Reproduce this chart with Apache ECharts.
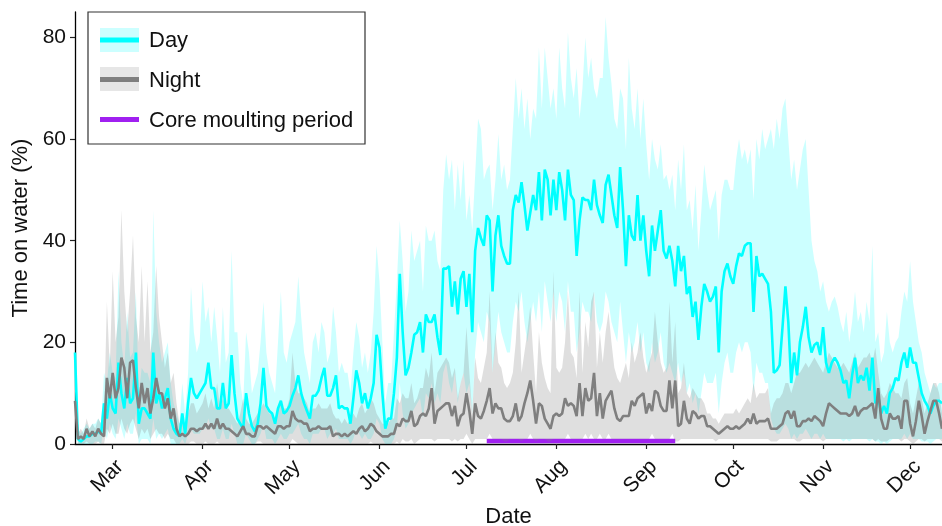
<!DOCTYPE html>
<html><head><meta charset="utf-8">
<script src="https://cdn.jsdelivr.net/npm/echarts@6/dist/echarts.min.js"></script>
<style>html,body{margin:0;padding:0;background:#fff}#c{width:942px;height:526px}</style>
</head><body><div id="c"></div>
<script>
// Daily series from 2019-02-16 to 2019-12-12 (300 days)
const startYear = 2019, startMonth = 1, startDay = 16, nDays = 300;
const monthLabels = ['Jan','Feb','Mar','Apr','May','Jun','Jul','Aug','Sep','Oct','Nov','Dec'];
const moultPeriod = ['2019-07-08', '2019-09-11'];

const dayMean = [18,1,0.5,1,1.5,1.5,2,2,2.5,2,
 8,5,10,7,6,16,10,7,13,8,
 9,18,4,7,7,6,5,18,8,10,
 7,9,11,5,3,2,1.5,6,2,8,
 13,10,9,10,11,12,16,11,11,7,
 7,12,7,8,17.5,10,5,4,3,10,
 6,3.5,2.5,4,8,15,7.5,6.5,6,4,
 7,8.5,6,6.5,7.5,9.5,11,13.5,10,8,
 6.5,5,9.5,9.5,10.5,13,15,9.5,9.5,11,
 13.5,7,7.5,7,7,4,9,14.5,12,8,
 10,7,9,12,21.5,19,10,3,5,5,
 10,17,33.5,22,13.5,15,18,21.5,22,24,
 18,25.5,24,24,25.5,21,17.5,34.5,34.5,35,
 27,32,25.5,32.5,34,27,33.5,22,38,42.5,
 40.5,39,45,44,30,41,45,39,37,35.5,
 35.5,46,49,47.5,51.5,47,42,45.5,49,46,
 53.5,44,54,52,45,52,46,53.5,50,44,
 54,49,48,37,44,48.5,48,48,46,52,
 47,45,43.5,51,53,49,45,42.5,54.5,46,
 35,45,41,40,49,40,45,38,33,43,
 38,42,46,38,36.5,39,36,31,39,34,
 37,29.5,31,25,28,20.5,27,31.5,30,28,
 29,31,18,30,34,35.5,33,31.5,35,37.5,
 37,39,39.5,39.5,26,37,33,33.5,32.5,31.5,
 26,14,14.5,15.5,23,31,24,12,18,13.5,
 20,23,27,21,18,19.5,20,17.5,23,16,
 14,16,17,16,14.5,12,12.5,9,13.5,17,
 12,13.5,12.5,15,10.5,17,8,9.5,6,7.5,
 6,10,11,13,12.5,16,18,15,19,16,
 16,13,10,8.5,7.5,6,7.5,8.5,8.5,8];

const dayUpper = [19,3,2,3,4,3,4,4,5,4,
 14,12,18,14,13,34,20,15,26,17,
 18,30,10,15,14,14,12,46,26,20,
 16,18,20,12,8,6,4,12,6,14,
 31,22,18,20,32,24,27,20,27,21,
 14,27,16,18,38,22,22,12,8,22,
 18,10,12,14,20,28,18,14,12,10,
 20,30,18,16,20,22,24,33,25,18,
 15,12,20,22,18,24,22,16,18,27,
 22,14,16,14,14,10,18,24,21,15,
 18,14,18,26,39,32,20,8,12,12,
 22,32,44,36,26,30,42,36,38,40,
 30,43,40,40,42,36,34,50,57,52,
 56,46,55,48,56,44,49,42,53,64,
 62,52,54,55,46,52,61,52,55,50,
 52,62,72,64,70,62,68,60,66,64,
 78,66,78,72,66,70,64,78,70,66,
 81,72,68,74,64,70,80,72,76,70,
 68,72,72,84,76,71,64,62,70,68,
 58,76,66,62,70,60,68,59,52,60,
 56,54,59,52,53,50,53,46,56,50,
 59,46,48,42,51,38,46,55,50,46,
 48,50,40,49,52,52,50,50,56,60,
 56,58,55,58,48,60,56,62,58,60,
 62,58,64,60,66,68,60,52,56,50,
 54,58,60,50,40,36,34,30,32,28,
 26,28,29,27,24,22,26,20,24,30,
 24,26,22,28,24,39,20,22,16,18,
 26,20,18,20,21,26,30,28,36,28,
 24,20,18,14,12,10,12,11,12,12];

const dayLower = [17,0,0,0,0,0,0,0.5,0.5,0,
 3,1,4,2,1,5,3,1,4,2,
 2,6,0,1,1,1,0,5,1,2,
 1,2,3,0,0,0,0,1,0,2,
 3,2,2,2,3,3,5,3,3,1,
 1,3,1,1,4,2,0,0,0,2,
 1,0,0,1,2,4,1,1,1,0,
 1,2,1,1,2,2,3,4,2,1,
 1,0,2,2,2,3,3,1,2,2,
 3,1,1,1,1,0,1,3,2,1,
 2,1,1,2,5,4,1,0,0,0,
 1,3,12,6,3,4,6,7,8,9,
 5,10,9,12,8,10,8,14,16,12,
 10,14,8,12,14,10,12,6,18,24,
 22,20,26,24,14,20,26,22,20,18,
 18,24,28,26,30,24,20,24,28,24,
 30,22,32,28,24,30,24,30,28,22,
 32,26,26,18,22,28,26,26,24,30,
 24,22,24,30,28,24,22,20,28,22,
 16,22,18,20,24,18,22,16,14,20,
 16,18,22,16,14,16,14,12,16,12,
 14,10,12,8,10,6,10,14,12,12,
 12,14,6,12,16,18,14,14,18,20,
 18,20,20,18,10,16,14,14,12,12,
 5,3,2,2,3,4,3,1,2,1,
 2,2,3,2,1,2,2,1,2,1,
 1,1,1,1,1,0.5,1,0.5,1,1,
 1,1,1,1,0.5,1,0.5,0.5,0,0.5,
 0,0.5,1,1,1,1,2,1,2,1,
 1,1,0.5,0.5,0.5,0,0.5,1,1,1];

const nightMean = [8.5,1,1.5,1,3,1.5,2.5,1.5,3,2,
 1.5,13,9,14,9,11,17,15,9,16,
 16.5,11,7,12,8,11,6,9,13,10,
 10,7,9,5,7,3,1.5,2,1.5,2,
 3,3,2.5,3,3,4,3,4,3,5,
 3,4,3,3,2.5,2,1.5,2.5,3.5,2,
 2,1.5,1.5,3.5,3.5,3,3.5,3,2.5,2,
 3.5,3.5,3,3.5,3.5,6.5,5,4.5,4.5,4,
 4,2.5,3,3,3.5,3,3,3,3.5,1.5,
 2,2,1.5,2,1.5,2,2.5,2,3,3.5,
 2.5,3,4,3.5,2.5,2,1.5,1.5,1.5,2,
 2,4,3.5,5,4.5,4.5,6.5,3.5,4,5.5,
 6,5.5,7,11,4,6.5,7,7.5,8,8,
 5.5,7.5,3.5,5.5,6,10,6.5,2,8,5.5,
 5,6.5,8.5,11,6,8,7,7,5,4.5,
 4.5,5.5,8,4.5,5.5,8,10,12.5,8.5,4,
 8,7.5,5,4,3,5.5,6,5.5,6,9,
 7.5,8,7.5,5.5,12,5.5,11,8.5,9,14,
 5.5,10,5,8.5,9.5,10.5,7,5,4.5,5.5,
 5.5,5.5,8.5,7.5,9,9.5,10,6,8,6.5,
 10.5,10,7.5,6.5,6.5,12.5,7,12.5,3.5,4,
 8.5,5,4,6.5,6,5,5.5,5.5,3.5,3.5,
 3,2.5,2,2.5,3,3.5,3,3,3.5,3,
 3.5,4,5,4,6,4,4.5,4.5,4.5,5,
 3,3,3,3.5,4,6,6.5,5,6.5,3.5,
 3.5,4.5,4.5,5,4.5,5.5,5,4.5,3.5,6,
 8,7.5,7,6.5,6,6,6,5.5,6,7.5,
 5.5,6.5,7,7,7.5,8,5,11,5,3,
 3,6,5,5,5.5,3,8.5,8.5,4,1.5,
 4.5,8.5,5.5,2,4.5,6.5,8.5,8.5,6,3];

const nightUpper = [10,2,3,2,5,3,4,3,5,4,
 5,28,15,34,20,25,46,30,22,30,
 41,25,20,35,20,32,18,22,35,25,
 20,15,18,12,14,8,4,5,4,6,
 8,8,6,7,8,10,7,9,7,12,
 7,9,7,7,6,5,4,6,9,5,
 4,4,5,6,7,8,7,6,6,5,
 7,8,7,7,9,18,12,10,10,9,
 8,6,7,7,8,7,7,7,8,6,
 5,5,4,5,4,5,6,5,7,8,
 6,7,9,8,6,5,4,4,4,5,
 5,9,8,10,9,9,12,8,9,11,
 11,15,13,18,10,14,15,16,17,16,
 13,15,9,12,14,23,14,6,17,13,
 12,15,18,30,14,22,16,15,12,11,
 12,14,20,30,14,18,22,27,18,10,
 22,16,13,11,10,34,15,14,15,20,
 30,18,17,13,30,14,24,19,28,30,
 15,22,16,22,26,20,15,13,12,14,
 16,13,20,16,18,22,17,14,16,18,
 26,20,16,14,15,28,16,24,10,11,
 16,10,9,11,10,9,9,8,6,6,
 5,5,4,5,6,6,6,6,7,6,
 7,8,9,8,12,9,10,10,10,11,
 6,8,9,9,10,12,12,10,12,14,
 14,15,16,15,16,17,16,15,14,16,
 18,17,16,15,15,16,15,14,16,18,
 15,16,17,17,18,16,19,14,10,9,
 10,12,11,10,10,9,12,13,8,6,
 9,12,9,6,8,10,12,12,10,6];

const nightLower = [7,0,0,0,0.5,0,0,0,0.5,0,
 0,3,2,4,2,2,5,3,2,4,
 5,3,1,3,2,3,1,2,3,2,
 2,1,2,1,1,0,0,0,0,0,
 0.5,0.5,0,0,0,0.5,0,0,0,0.5,
 0,0,0,0,0,0,0,0,0,0,
 0,0,0,0.5,0.5,0,0,0,0,0,
 0,0,0,0,0,1,0.5,0,0,0,
 0,0,0,0,0,0,0,0,0,0,
 0,0,0,0,0,0,0,0,0,0,
 0,0,0.5,0,0,0,0,0,0,0,
 0,0.5,0,1,0.5,0.5,1,0,0.5,1,
 1,1,1,1,0.5,1,1,1,1,1,
 0.5,1,0.5,1,1,2,1,0,1,1,
 1,1,1,2,1,1,1,1,0.5,0.5,
 1,1,1,1,0.5,1,1,2,1,0.5,
 1,1,1,0.5,0.5,1,1,1,1,1,
 2,1,1,1,1,1,2,1,2,1,
 1,2,1,1,2,1,1,1,1,1,
 1,1,1,1,1,1,1,1,1,2,
 1,1,1,1,1,1,2,0.5,0.5,1,
 1,1,1,1,1,1,1,1,1,1,
 1,0.5,1,1,1,1,1,1,1,1,
 1,1,1,1,1,1,1,1,1,1,
 0.5,0.5,0.5,1,1,1,1,1,1,0.5,
 0.5,1,1,1,1,1,1,1,0.5,1,
 1,1,1,1,1,1,1,1,1,1,
 1,1,1,1,1,1,0.5,1,0.5,0.5,
 0.5,1,1,1,1,0.5,1,1,0.5,0,
 0.5,1,1,0.5,1,1,1,1,1,0.5];

// ---- build ----
const dates = [];
for (let i = 0; i < nDays; i++) {
  const d = new Date(Date.UTC(startYear, startMonth, startDay + i));
  dates.push(d.toISOString().slice(0, 10));
}
function bandBase(lo, mean) { return lo.map((v, i) => Math.min(v, mean[i])); }
function bandWidth(lo, hi, mean) { return hi.map((v, i) => Math.max(v, mean[i]) - Math.min(lo[i], mean[i])); }
const isMonthStart = (idx, v) => v.slice(8) === '01';
const FONT = 'Liberation Sans, Arial, sans-serif';
const TXT = '#111';

const chart = echarts.init(document.getElementById('c'), null, {renderer: 'canvas'});
const noEmph = {disabled: true};
chart.setOption({
  animation: false,
  backgroundColor: '#fff',
  grid: {left: 75, right: 0, top: 12, bottom: 82, containLabel: false, outerBoundsMode: 'none'},
  xAxis: {
    type: 'category', data: dates, boundaryGap: false,
    axisLine: {lineStyle: {color: '#000', width: 1.3}},
    axisTick: {interval: isMonthStart, length: 5, lineStyle: {color: '#222', width: 1.2}},
    axisLabel: {interval: isMonthStart, rotate: 45, margin: 12, verticalAlign: 'top',
      formatter: v => monthLabels[+v.slice(5, 7) - 1], fontSize: 21, color: TXT, fontFamily: FONT},
    splitLine: {show: false},
    name: 'Date', nameLocation: 'middle', nameGap: 60,
    nameTextStyle: {fontSize: 22, color: TXT, fontFamily: FONT}
  },
  yAxis: {
    type: 'value', min: 0, max: 85, interval: 20,
    axisLine: {show: true, lineStyle: {color: '#000', width: 1.3}},
    axisTick: {show: true, length: 5, lineStyle: {color: '#222', width: 1.2}, customValues: [0, 20, 40, 60, 80]},
    axisLabel: {margin: 9, fontSize: 21, color: TXT, fontFamily: FONT, customValues: [0, 20, 40, 60, 80]},
    splitLine: {show: false},
    name: 'Time on water (%)', nameLocation: 'middle', nameGap: 41,
    nameTextStyle: {fontSize: 22, color: TXT, fontFamily: FONT}
  },
  series: [
    {type: 'line', stack: 'dayband', data: bandBase(dayLower, dayMean), symbol: 'none',
      lineStyle: {opacity: 0}, emphasis: noEmph, silent: true},
    {type: 'line', stack: 'dayband', data: bandWidth(dayLower, dayUpper, dayMean), symbol: 'none',
      lineStyle: {opacity: 0}, areaStyle: {color: 'rgba(0,255,255,0.2)', opacity: 1}, emphasis: noEmph, silent: true},
    {type: 'line', name: 'Day', data: dayMean, symbol: 'none',
      lineStyle: {color: '#00FFFF', width: 2.6}, emphasis: noEmph, silent: true},
    {type: 'line', stack: 'nightband', data: bandBase(nightLower, nightMean), symbol: 'none',
      lineStyle: {opacity: 0}, emphasis: noEmph, silent: true},
    {type: 'line', stack: 'nightband', data: bandWidth(nightLower, nightUpper, nightMean), symbol: 'none',
      lineStyle: {opacity: 0}, areaStyle: {color: 'rgba(128,128,128,0.25)', opacity: 1}, emphasis: noEmph, silent: true},
    {type: 'line', name: 'Night', data: nightMean, symbol: 'none',
      lineStyle: {color: '#7F7F7F', width: 2.6}, emphasis: noEmph, silent: true},
    {type: 'custom', name: 'Core moulting period', silent: true,
      data: [[moultPeriod[0], moultPeriod[1], 0]],
      encode: {x: [0, 1], y: 2},
      renderItem: function (params, api) {
        const s = api.coord([api.value(0), api.value(2)]);
        const e = api.coord([api.value(1), api.value(2)]);
        return {type: 'line', shape: {x1: s[0], y1: s[1] - 3, x2: e[0], y2: e[1] - 3},
          style: {stroke: '#A020F0', lineWidth: 4.5}};
      }}
  ],
  graphic: [
    {type: 'rect', shape: {x: 88, y: 12, width: 277, height: 132}, style: {fill: '#fff', stroke: '#333', lineWidth: 1.2}, z: 100},
    {type: 'rect', shape: {x: 100, y: 28, width: 39, height: 24}, style: {fill: 'rgba(0,255,255,0.2)'}, z: 101},
    {type: 'line', shape: {x1: 100, y1: 40, x2: 139, y2: 40}, style: {stroke: '#00FFFF', lineWidth: 5}, z: 102},
    {type: 'rect', shape: {x: 100, y: 67, width: 39, height: 24}, style: {fill: 'rgba(128,128,128,0.2)'}, z: 101},
    {type: 'line', shape: {x1: 100, y1: 79.5, x2: 139, y2: 79.5}, style: {stroke: '#7F7F7F', lineWidth: 5}, z: 102},
    {type: 'line', shape: {x1: 100, y1: 119.5, x2: 139, y2: 119.5}, style: {stroke: '#A020F0', lineWidth: 5}, z: 102},
    {type: 'text', x: 149, y: 41, style: {text: 'Day', fontSize: 22, fontFamily: FONT, fill: TXT, verticalAlign: 'middle'}, z: 102},
    {type: 'text', x: 149, y: 81, style: {text: 'Night', fontSize: 22, fontFamily: FONT, fill: TXT, verticalAlign: 'middle'}, z: 102},
    {type: 'text', x: 149, y: 121, style: {text: 'Core moulting period', fontSize: 22, fontFamily: FONT, fill: TXT, verticalAlign: 'middle'}, z: 102}
  ]
});
</script>
</body></html>
